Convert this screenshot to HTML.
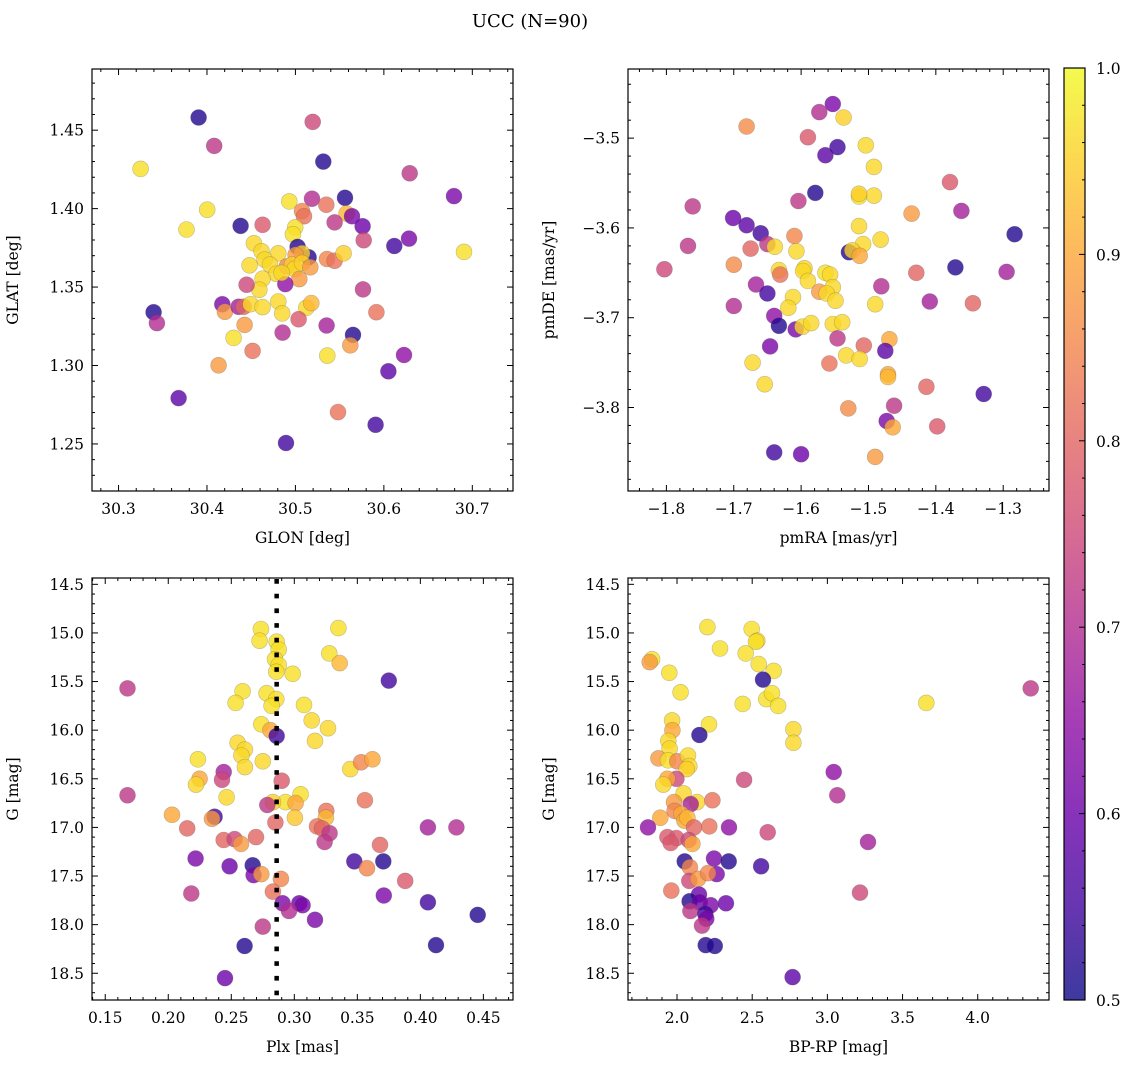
<!DOCTYPE html>
<html><head><meta charset="utf-8"><style>
html,body{margin:0;padding:0;background:#fff;}
svg{display:block;font-family:"DejaVu Serif","Liberation Serif",serif;}
</style></head><body>
<svg id="fig" width="1136" height="1068" viewBox="0 0 1136 1068" xmlns="http://www.w3.org/2000/svg">
<text x="530" y="27" font-size="18" text-anchor="middle">UCC (N=90)</text>
<g id="plots"></g>
</svg>
<script>
// ---- Panel 1: GLON vs GLAT ----
const glonX=[30.3905,30.5195,30.4082,30.3249,30.5315,30.6292,30.6793,30.5560,30.4931,30.5187,30.5349,30.5074,30.5097,30.5579,30.5640,30.4003,30.3769,30.4380,30.4629,30.5443,30.5760,30.4998,30.4972,30.5772,30.6284,30.6118,30.6906,30.4531,30.4618,30.4806,30.5025,30.5149,30.5074,30.5002,30.5357,30.5443,30.5545,30.4482,30.4652,30.4712,30.4784,30.4904,30.4961,30.4991,30.5074,30.5168,30.5044,30.4629,30.4591,30.4448,30.4885,30.4844,30.5764,30.4173,30.4203,30.4357,30.4414,30.4493,30.4629,30.4806,30.4851,30.5123,30.5179,30.5036,30.3396,30.3434,30.4425,30.4855,30.5353,30.5651,30.5621,30.5915,30.4301,30.4516,30.5360,30.6228,30.4131,30.6051,30.3679,30.5481,30.5907,30.4893];
const glatY=[1.4581,1.4553,1.4400,1.4253,1.4300,1.4225,1.4080,1.4069,1.4046,1.4063,1.4025,1.3984,1.3952,1.3969,1.3952,1.3993,1.3867,1.3890,1.3897,1.3912,1.3888,1.3880,1.3837,1.3799,1.3809,1.3762,1.3724,1.3779,1.3728,1.3715,1.3756,1.3690,1.3715,1.3705,1.3679,1.3668,1.3715,1.3639,1.3675,1.3643,1.3585,1.3632,1.3643,1.3615,1.3654,1.3626,1.3551,1.3553,1.3483,1.3515,1.3519,1.3590,1.3485,1.3391,1.3342,1.3374,1.3374,1.3391,1.3372,1.3408,1.3332,1.3368,1.3398,1.3295,1.3340,1.3270,1.3259,1.3210,1.3255,1.3195,1.3129,1.3340,1.3176,1.3093,1.3063,1.3067,1.3001,1.2963,1.2792,1.2703,1.2622,1.2506];
const glatC=[.52,.75,.72,.97,.52,.72,.62,.52,.97,.70,.82,.85,.82,.92,.62,.97,.97,.52,.78,.72,.60,.97,.97,.75,.62,.55,.97,.96,.96,.96,.52,.52,.95,.88,.85,.82,.95,.96,.96,.96,.96,.85,.95,.96,.95,.88,.88,.96,.96,.75,.65,.96,.72,.62,.88,.68,.80,.96,.96,.96,.96,.96,.92,.78,.52,.70,.88,.70,.68,.52,.88,.82,.97,.82,.97,.65,.88,.58,.58,.82,.55,.55];
// ---- Panel 2: pmRA vs pmDE ----
const pmraX=[-1.553,-1.573,-1.537,-1.681,-1.590,-1.564,-1.546,-1.504,-1.492,-1.492,-1.579,-1.604,-1.514,-1.514,-1.379,-1.761,-1.436,-1.362,-1.701,-1.681,-1.660,-1.514,-1.610,-1.283,-1.768,-1.675,-1.650,-1.639,-1.607,-1.508,-1.482,-1.529,-1.524,-1.513,-1.803,-1.700,-1.633,-1.631,-1.595,-1.597,-1.590,-1.564,-1.557,-1.553,-1.573,-1.562,-1.549,-1.429,-1.371,-1.295,-1.667,-1.650,-1.481,-1.612,-1.619,-1.490,-1.409,-1.345,-1.700,-1.640,-1.633,-1.608,-1.598,-1.585,-1.553,-1.539,-1.546,-1.507,-1.469,-1.475,-1.646,-1.533,-1.513,-1.672,-1.558,-1.471,-1.471,-1.654,-1.414,-1.329,-1.462,-1.530,-1.473,-1.464,-1.398,-1.640,-1.600,-1.490];
const pmdeY=[-3.462,-3.471,-3.477,-3.487,-3.499,-3.519,-3.510,-3.508,-3.532,-3.564,-3.561,-3.570,-3.565,-3.562,-3.549,-3.576,-3.584,-3.581,-3.589,-3.597,-3.606,-3.598,-3.609,-3.607,-3.620,-3.623,-3.618,-3.621,-3.626,-3.618,-3.613,-3.627,-3.625,-3.631,-3.646,-3.641,-3.647,-3.652,-3.645,-3.648,-3.659,-3.650,-3.652,-3.666,-3.671,-3.673,-3.681,-3.650,-3.644,-3.649,-3.663,-3.673,-3.665,-3.677,-3.689,-3.685,-3.682,-3.684,-3.687,-3.698,-3.709,-3.713,-3.710,-3.706,-3.707,-3.705,-3.723,-3.731,-3.724,-3.737,-3.732,-3.742,-3.746,-3.750,-3.751,-3.763,-3.766,-3.774,-3.777,-3.785,-3.798,-3.801,-3.815,-3.822,-3.821,-3.850,-3.852,-3.855];
const pmdeC=[.62,.70,.95,.86,.78,.58,.55,.96,.96,.96,.52,.72,.97,.95,.78,.72,.88,.68,.60,.58,.55,.96,.85,.52,.72,.80,.72,.96,.96,.96,.96,.52,.95,.90,.75,.86,.96,.82,.96,.96,.96,.97,.96,.96,.88,.96,.96,.80,.52,.68,.68,.55,.70,.96,.96,.96,.68,.80,.70,.65,.52,.62,.96,.96,.96,.96,.72,.80,.90,.58,.62,.96,.96,.96,.82,.90,.92,.96,.80,.55,.72,.86,.62,.90,.78,.55,.60,.88];
// ---- Panel 3: Plx vs G ----
const plxX=[.2735,.335,.2725,.286,.2876,.2847,.2876,.2857,.3278,.336,.2987,.375,.1677,.259,.2534,.278,.2857,.282,.3077,.3138,.3267,.2738,.281,.286,.3164,.255,.2608,.258,.2608,.275,.2235,.2249,.222,.244,.2426,.2463,.290,.3444,.353,.362,.1677,.305,.293,.283,.301,.2786,.356,.203,.2368,.2347,.3005,.285,.3254,.3251,.318,.322,.328,.324,.215,.244,.2526,.2577,.2696,.406,.4286,.368,.2217,.2487,.267,.2677,.2738,.2894,.3476,.3706,.3577,.388,.2183,.283,.371,.2907,.304,.3066,.2958,.3164,.406,.4455,.275,.2606,.4124,.245];
const plxG=[14.96,14.95,15.08,15.09,15.17,15.27,15.33,15.40,15.21,15.31,15.42,15.49,15.57,15.60,15.72,15.62,15.68,15.75,15.74,15.90,15.98,15.94,16.00,16.06,16.11,16.13,16.20,16.26,16.38,16.32,16.30,16.50,16.56,16.43,16.51,16.69,16.52,16.40,16.33,16.30,16.67,16.66,16.74,16.74,16.75,16.77,16.72,16.87,16.89,16.91,16.90,16.95,16.83,16.90,16.99,17.01,17.06,17.15,17.01,17.13,17.12,17.17,17.10,17.00,17.00,17.18,17.32,17.40,17.39,17.49,17.48,17.53,17.35,17.35,17.42,17.55,17.68,17.66,17.70,17.78,17.78,17.80,17.86,17.95,17.77,17.90,18.02,18.22,18.21,18.55];
const plxC=[.97,.97,.97,.97,.97,.97,.97,.97,.97,.92,.97,.55,.72,.97,.97,.97,.97,.97,.97,.96,.96,.97,.90,.55,.96,.96,.96,.96,.96,.96,.97,.90,.96,.68,.75,.96,.78,.96,.85,.90,.72,.97,.97,.95,.90,.72,.82,.90,.55,.88,.94,.80,.82,.92,.82,.80,.72,.72,.80,.80,.75,.88,.80,.68,.70,.80,.62,.60,.52,.62,.88,.85,.55,.52,.85,.78,.72,.82,.62,.62,.60,.62,.70,.62,.55,.52,.72,.52,.52,.60];
const plxRef=[0.286];
// ---- Panel 4: BP-RP vs G ----
const bprpX=[2.202,2.497,2.534,2.525,2.286,2.457,2.543,2.643,1.834,1.818,1.949,2.572,2.024,4.352,2.437,2.594,2.632,2.672,3.658,2.213,1.967,1.969,2.149,2.774,2.774,1.942,1.951,1.876,1.940,2.002,2.073,2.082,2.064,3.042,2.446,1.996,1.936,1.909,2.044,1.980,2.133,2.235,2.091,1.984,2.029,2.049,2.069,2.113,1.889,1.807,2.215,2.346,3.066,2.603,3.270,1.936,1.996,1.958,2.078,2.102,2.051,2.246,2.344,2.086,2.264,2.082,2.140,2.206,2.559,1.962,2.146,2.084,2.151,2.224,2.326,2.089,2.188,2.195,2.166,3.217,2.191,2.251,2.769];
const bprpG=[14.94,14.96,15.08,15.09,15.16,15.21,15.32,15.39,15.27,15.30,15.41,15.48,15.61,15.57,15.73,15.68,15.62,15.75,15.72,15.94,15.90,16.00,16.05,15.99,16.13,16.11,16.19,16.29,16.31,16.32,16.26,16.37,16.40,16.43,16.51,16.50,16.50,16.56,16.65,16.74,16.74,16.72,16.76,16.83,16.86,16.93,16.90,17.00,16.90,17.00,16.99,17.00,16.67,17.05,17.15,17.10,17.11,17.16,17.13,17.17,17.35,17.32,17.35,17.41,17.48,17.55,17.53,17.47,17.40,17.65,17.69,17.76,17.77,17.80,17.78,17.86,17.89,17.94,18.01,17.67,18.21,18.22,18.54];
const bprpC=[.97,.97,.96,.97,.97,.97,.97,.97,.97,.88,.97,.52,.97,.72,.97,.97,.97,.97,.97,.97,.96,.90,.52,.96,.96,.96,.96,.88,.97,.85,.96,.96,.95,.65,.75,.75,.90,.96,.96,.88,.96,.82,.68,.85,.90,.90,.92,.80,.90,.65,.82,.65,.70,.75,.68,.78,.78,.78,.75,.90,.52,.62,.52,.85,.62,.75,.88,.85,.55,.82,.60,.52,.60,.62,.60,.72,.55,.62,.72,.75,.52,.52,.58];
// ---- Tick labels ----
const p1xTicks=[30.3,30.4,30.5,30.6,30.7], p1yTicks=[1.25,1.30,1.35,1.40,1.45];
const p2xTicks=[-1.8,-1.7,-1.6,-1.5,-1.4,-1.3], p2yTicks=[-3.5,-3.6,-3.7,-3.8];
const p3xTicks=[0.15,0.20,0.25,0.30,0.35,0.40,0.45], gTicks=[14.5,15.0,15.5,16.0,16.5,17.0,17.5,18.0,18.5];
const p4xTicks=[2.0,2.5,3.0,3.5,4.0];
const cbTicks=[0.5,0.6,0.7,0.8,0.9,1.0];

const NS="http://www.w3.org/2000/svg";
const root=document.getElementById('plots');
function mk(tag,attrs,parent){const e=document.createElementNS(NS,tag);for(const k in attrs)e.setAttribute(k,attrs[k]);(parent||root).appendChild(e);return e;}
const stops=[[13,8,135],[65,4,157],[106,0,168],[143,13,164],[177,42,144],[204,71,120],[225,100,98],[242,132,75],[252,166,54],[252,206,37],[240,249,33]];
function plasma(c){let t=Math.max(0,Math.min(1,(c-0.5)/0.5))*10;let i=Math.min(9,Math.floor(t)),f=t-i;const a=stops[i],b=stops[i+1];return 'rgb('+a.map((v,k)=>Math.round(v+(b[k]-v)*f)).join(',')+')';}
function fmt(v,d){return v.toFixed(d).replace('-','\u2212');}
function panel(name,L,T,W,H,xd,yd,invert,xt,yt,xminor,yminor,xdec,ydec,xlab,ylab,xs,ys,cs,extra){
  const g=mk('g',{});
  
  
  const sx=v=>L+(v-xd[0])/(xd[1]-xd[0])*W;
  const sy=invert?(v=>T+(v-yd[0])/(yd[1]-yd[0])*H):(v=>T+(yd[1]-v)/(yd[1]-yd[0])*H);
  for(let i=0;i<xs.length;i++){
    const c=mk('circle',{cx:sx(xs[i]).toFixed(1),cy:sy(ys[i]).toFixed(1),r:8,fill:plasma(cs[i]),'fill-opacity':0.8,stroke:'#555','stroke-opacity':0.35,'stroke-width':0.6},g);
    
    
  }
  if(extra)extra(g,sx,sy,T,H);
  mk('rect',{x:L,y:T,width:W,height:H,fill:'none',stroke:'#000','stroke-width':1.2},g);
  const tk=mk('g',{stroke:'#000','stroke-width':1},g);
  const x0=Math.ceil(xd[0]/xminor-1e-6),x1=Math.floor(xd[1]/xminor+1e-6);
  for(let k=x0;k<=x1;k++){const v=k*xminor;const maj=xt.some(t=>Math.abs(t-v)<xminor/10);const len=maj?6:3;const x=sx(v);
    mk('line',{x1:x,y1:T+H,x2:x,y2:T+H-len},tk);mk('line',{x1:x,y1:T,x2:x,y2:T+len},tk);}
  const lo=Math.min(yd[0],yd[1]),hi=Math.max(yd[0],yd[1]);
  const y0=Math.ceil(lo/yminor-1e-6),y1=Math.floor(hi/yminor+1e-6);
  for(let k=y0;k<=y1;k++){const v=k*yminor;const maj=yt.some(t=>Math.abs(t-v)<yminor/10);const len=maj?6:3;const y=sy(v);
    mk('line',{x1:L,y1:y,x2:L+len,y2:y},tk);mk('line',{x1:L+W,y1:y,x2:L+W-len,y2:y},tk);}
  xt.forEach(v=>{const t=mk('text',{x:sx(v),y:T+H+23,'font-size':15.5,'text-anchor':'middle'},g);t.textContent=fmt(v,xdec);
    
    });
  yt.forEach(v=>{const t=mk('text',{x:L-8,y:sy(v)+5.5,'font-size':15.5,'text-anchor':'end'},g);t.textContent=fmt(v,ydec);
    
    });
  const xl=mk('text',{x:L+W/2,y:T+H+52,'font-size':15.5,'text-anchor':'middle'},g);xl.textContent=xlab;
  
  
  const yx=L-74;const yl=mk('text',{x:yx,y:T+H/2,'font-size':15.5,'text-anchor':'middle',transform:'rotate(-90 '+yx+' '+(T+H/2)+')'},g);yl.textContent=ylab;
  
  
}
panel('glon-glat-panel',92,69,421,422,[30.270,30.746],[1.220,1.489],false,p1xTicks,p1yTicks,0.02,0.01,1,2,'GLON [deg]','GLAT [deg]',glonX,glatY,glatC);
panel('pmra-pmde-panel',628,69,421,422,[-1.857,-1.232],[-3.893,-3.423],false,p2xTicks,p2yTicks,0.02,0.02,1,1,'pmRA [mas/yr]','pmDE [mas/yr]',pmraX,pmdeY,pmdeC);
panel('plx-g-panel',92,578,421,422,[0.1395,0.4735],[14.435,18.775],true,p3xTicks,gTicks,0.01,0.1,2,1,'Plx [mas]','G [mag]',plxX,plxG,plxC,
  function(g,sx,sy,T,H){plxRef.forEach(v=>{const l=mk('line',{x1:sx(v),y1:T+1,x2:sx(v),y2:T+H,stroke:'#000','stroke-width':4.5,'stroke-dasharray':'4.7 10'},g);
    
    });});
panel('bprp-g-panel',628,578,421,422,[1.674,4.474],[14.435,18.775],true,p4xTicks,gTicks,0.1,0.1,1,1,'BP-RP [mag]','G [mag]',bprpX,bprpG,bprpC);

// colorbar
const cb=mk('g',{});


const defs=mk('defs',{},cb);
const lg=mk('linearGradient',{id:'plg',x1:0,y1:1,x2:0,y2:0},defs);
for(let i=0;i<=20;i++){mk('stop',{offset:(i/20),'stop-color':plasma(0.5+i*0.025)},lg);}
const CL=1064,CT=68,CW=21,CH=932;
mk('rect',{x:CL,y:CT,width:CW,height:CH,fill:'#fff'},cb);
mk('rect',{x:CL,y:CT,width:CW,height:CH,fill:'url(#plg)','fill-opacity':0.8},cb);
mk('rect',{x:CL,y:CT,width:CW,height:CH,fill:'none',stroke:'#000','stroke-width':1.2},cb);
const cy=v=>CT+(1.0-v)/0.5*CH;
for(let k=25;k<=50;k++){const v=k*0.02;const maj=Math.abs(v*10-Math.round(v*10))<1e-6;const len=maj?6:3;
  mk('line',{x1:CL+CW,y1:cy(v),x2:CL+CW-len,y2:cy(v),stroke:'#000','stroke-width':1},cb);}
cbTicks.forEach(v=>{const t=mk('text',{x:CL+CW+11,y:cy(v)+6,'font-size':15.5},cb);t.textContent=v.toFixed(1);
  
  });
</script>
</body></html>
